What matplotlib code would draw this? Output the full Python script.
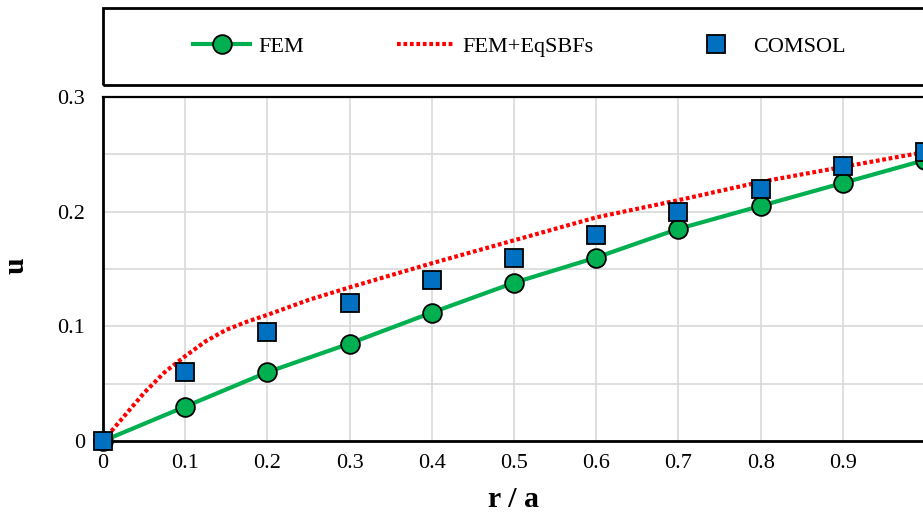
import numpy as np
import matplotlib
matplotlib.use('Agg')
import matplotlib.pyplot as plt
from matplotlib.patches import Rectangle

# 数据
r_fem = [0, 0.1, 0.2, 0.3, 0.4, 0.5, 0.6, 0.7, 0.8, 0.9, 1.0]
u_fem = [0, 0.030, 0.060, 0.085, 0.112, 0.138, 0.160, 0.185, 0.205, 0.225, 0.245]

r_eq = [0, 0.025, 0.05, 0.075, 0.1, 0.125, 0.15, 0.175, 0.2, 0.25, 0.3, 0.4, 0.5, 0.6, 0.7, 0.8, 0.9, 1.0]
u_eq = [0, 0.021, 0.042, 0.060, 0.074, 0.087, 0.097, 0.104, 0.110, 0.123, 0.134, 0.155, 0.175, 0.195, 0.210,
        0.226, 0.239, 0.252]

r_comsol = [0, 0.1, 0.2, 0.3, 0.4, 0.5, 0.6, 0.7, 0.8, 0.9, 1.0]
u_comsol = [0, 0.060, 0.095, 0.120, 0.140, 0.160, 0.180, 0.200, 0.220, 0.240, 0.252]

xticks = [0, 0.1, 0.2, 0.3, 0.4, 0.5, 0.6, 0.7, 0.8, 0.9]
xtick_labels = ['0', '0.1', '0.2', '0.3', '0.4', '0.5', '0.6', '0.7', '0.8', '0.9']
yticks = [0, 0.1, 0.2, 0.3]
ytick_labels = ['0', '0.1', '0.2', '0.3']

plt.rcParams['font.family'] = ['Liberation Serif', 'DejaVu Serif']

W, H = 923, 522
fig = plt.figure(figsize=(W / 100, H / 100), dpi=100)
ax = fig.add_axes([103 / W, 81 / H, 822 / W, 344 / H])

# 网格
ax.set_xticks(np.arange(0, 1.01, 0.1), minor=True)
ax.set_yticks([0.05, 0.15, 0.25], minor=True)
ax.grid(True, which='both', color='#D9D9D9', lw=1.2, zorder=0)

l1, = ax.plot(r_fem, u_fem, color='#00B050', lw=3, marker='o', ms=13.5,
              mfc='#00B050', mec='black', mew=1.3, zorder=3, label='FEM')
l2, = ax.plot(r_eq, u_eq, color='#FF0000', lw=3, dashes=(0.9, 0.65),
              dash_capstyle='butt', zorder=4, label='FEM+EqSBFs')
l3, = ax.plot(r_comsol, u_comsol, ls='none', marker='s', ms=13,
              mfc='#0070C0', mec='black', mew=1.3, zorder=5, label='COMSOL')
for l in (l1, l2, l3):
    l.set_clip_on(False)

ax.set_xlim(0, 1)
ax.set_ylim(0, 0.3)
ax.set_xticks(xticks)
ax.set_xticklabels(xtick_labels)
ax.set_yticks(yticks)
ax.set_yticklabels(ytick_labels)
ax.tick_params(axis='both', which='both', length=0, labelsize=16)
ax.tick_params(axis='x', pad=9)
ax.tick_params(axis='y', pad=13)

for s in ['left', 'bottom']:
    ax.spines[s].set_linewidth(2)
ax.spines['top'].set_linewidth(1.6)
ax.spines['right'].set_visible(False)

ax.set_xlabel('r / a', fontsize=21.5, fontweight='bold')
ax.xaxis.set_label_coords(0.5, -0.13)
ax.set_ylabel('u', fontsize=21.5, fontweight='bold')
ax.yaxis.set_label_coords(-0.09, 0.51)

# 图例框
fig.patches.append(Rectangle((103 / W, 1 - 85 / H), 0.9, 77 / H, transform=fig.transFigure,
                             fill=False, ec='black', lw=2, clip_on=False))
fig.legend(handles=[l1, l2, l3], loc='center', bbox_to_anchor=(519 / W, 1 - 47 / H),
           ncol=3, frameon=False, fontsize=16, handlelength=2.6, handletextpad=0.35,
           columnspacing=4.2)

fig.savefig('out.png', dpi=100)
